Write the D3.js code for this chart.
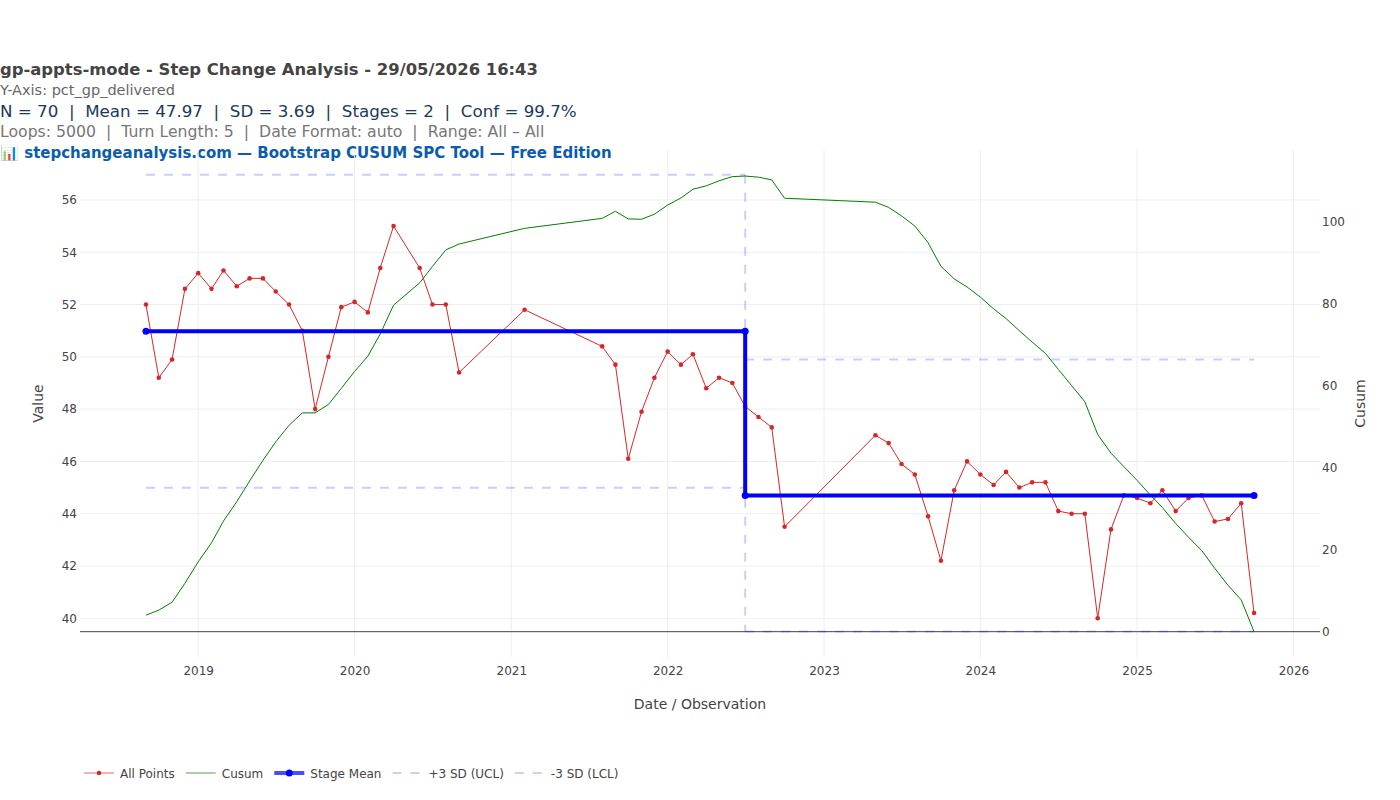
<!DOCTYPE html>
<html>
<head>
<meta charset="utf-8">
<script src="https://cdn.jsdelivr.net/npm/d3@7"></script>
<style>
  body { margin: 0; background: #fff; }
  svg { font-family: "DejaVu Sans", verdana, arial, sans-serif; }
</style>
</head>
<body>
<div class="chart"></div>
<script>
// chart size
const WIDTH = 1400;
const HEIGHT = 800;
const PLOT = { left: 80, right: 1320, top: 150, bottom: 657 };
const FONT = '"DejaVu Sans", verdana, arial, sans-serif';

// header text
const titleText = "gp-appts-mode - Step Change Analysis - 29/05/2026 16:43";
const yAxisText = "Y-Axis: pct_gp_delivered";
const statsText = "N = 70  |  Mean = 47.97  |  SD = 3.69  |  Stages = 2  |  Conf = 99.7%";
const loopsText = "Loops: 5000  |  Turn Length: 5  |  Date Format: auto  |  Range: All \u2013 All";
const linkText = "\ud83d\udcca stepchangeanalysis.com \u2014 Bootstrap CUSUM SPC Tool \u2014 Free Edition";

// observation months
const dates = [
  "2018-09", "2018-10", "2018-11", "2018-12",
  "2019-01", "2019-02", "2019-03", "2019-04", "2019-05", "2019-06",
  "2019-07", "2019-08", "2019-09", "2019-10", "2019-11", "2019-12",
  "2020-01", "2020-02", "2020-03", "2020-04",
  "2020-06", "2020-07", "2020-08", "2020-09",
  "2021-02",
  "2021-08", "2021-09", "2021-10", "2021-11", "2021-12",
  "2022-01", "2022-02", "2022-03", "2022-04", "2022-05", "2022-06",
  "2022-07", "2022-08", "2022-09", "2022-10",
  "2023-05", "2023-06", "2023-07", "2023-08", "2023-09", "2023-10",
  "2023-11", "2023-12",
  "2024-01", "2024-02", "2024-03", "2024-04", "2024-05", "2024-06",
  "2024-07", "2024-08", "2024-09", "2024-10", "2024-11", "2024-12",
  "2025-01", "2025-02", "2025-03", "2025-04", "2025-05", "2025-06",
  "2025-07", "2025-08", "2025-09", "2025-10"
];

// pct_gp_delivered values
const values = [
  52.0, 49.2, 49.9, 52.6,
  53.2, 52.6, 53.3, 52.7, 53.0, 53.0, 52.5, 52.0, 51.0, 48.0, 50.0, 51.9,
  52.1, 51.7, 53.4, 55.0,
  53.4, 52.0, 52.0, 49.4,
  51.8,
  50.4, 49.7, 46.1, 47.9, 49.2,
  50.2, 49.7, 50.1, 48.8, 49.2, 49.0, 48.1, 47.7, 47.3, 43.5,
  47.0, 46.7, 45.9, 45.5, 43.9, 42.2, 44.9, 46.0,
  45.5, 45.1, 45.6, 45.0, 45.2, 45.2, 44.1, 44.0, 44.0, 40.0, 43.4, 44.7,
  44.6, 44.4, 44.9, 44.1, 44.6, 44.7, 43.7, 43.8, 44.4, 40.2
];

// cusum
const cusum = [
  4.03, 5.26, 7.19, 11.82, 17.05, 21.68, 27.01, 31.74, 36.77, 41.80,
  46.33, 50.36, 53.39, 53.42, 55.45, 59.38, 63.51, 67.24, 72.67, 79.70,
  85.13, 89.16, 93.19, 94.62, 98.45, 100.88, 102.61, 100.74, 100.67, 101.90,
  104.13, 105.86, 107.99, 108.82, 110.05, 111.08, 111.21, 110.94, 110.27, 105.80,
  104.83, 103.56, 101.49, 99.02, 94.95, 89.18, 86.11, 84.14, 81.67, 78.80,
  76.43, 73.46, 70.69, 67.92, 64.05, 60.08, 56.11, 48.14, 43.57, 40.30,
  36.93, 33.36, 30.29, 26.42, 23.05, 19.78, 15.51, 11.34, 7.77, 0.00
];

// stages
const stageStart = ["2018-09", "2022-07"];
const stageEnd = ["2022-07", "2025-10"];
const stageMean = [50.98, 44.70];
const stageUcl = [56.96, 49.90];
const stageLcl = [44.99, 39.50];

// axis ticks
const yTicks = [40, 42, 44, 46, 48, 50, 52, 54, 56];
const y2Ticks = [0, 20, 40, 60, 80, 100];
const xTicks = ["2019", "2020", "2021", "2022", "2023", "2024", "2025", "2026"];

const parseMonth = d3.utcParse("%Y-%m");
const parseYear = d3.utcParse("%Y");

// scales
const x = d3.scaleUtc()
  .domain([new Date(Date.UTC(2018, 2, 31)), new Date(Date.UTC(2026, 2, 4))])
  .range([PLOT.left, PLOT.right]);
const y = d3.scaleLinear().domain([38.52, 57.91]).range([PLOT.bottom, PLOT.top]);
const y2 = d3.scaleLinear().domain([-6.18, 117.57]).range([PLOT.bottom, PLOT.top]);

const svg = d3.select(".chart").append("svg")
  .attr("width", WIDTH)
  .attr("height", HEIGHT);

// header lines
const header = [
  { text: titleText, y: 75, size: 16.4, weight: "bold", color: "#444" },
  { text: yAxisText, y: 95, size: 14.5, weight: "normal", color: "#666" },
  { text: statsText, y: 117, size: 16.7, weight: "normal", color: "#1a3a5c" },
  { text: loopsText, y: 137, size: 15.7, weight: "normal", color: "#777" },
  { text: linkText, y: 158, size: 15, weight: "bold", color: "#0b5cad" }
];
svg.selectAll(".header")
  .data(header)
  .enter()
  .append("text")
  .attr("class", "header")
  .attr("x", 0)
  .attr("y", d => d.y)
  .style("font-size", d => d.size + "px")
  .style("font-weight", d => d.weight)
  .style("fill", d => d.color)
  .style("white-space", "pre")
  .attr("xml:space", "preserve")
  .text(d => d.text);

// grid
const grid = svg.append("g");
grid.selectAll(".vgrid")
  .data(xTicks)
  .enter()
  .append("line")
  .attr("x1", d => x(parseYear(d)))
  .attr("x2", d => x(parseYear(d)))
  .attr("y1", PLOT.top)
  .attr("y2", PLOT.bottom)
  .style("stroke", "#eee");
grid.selectAll(".hgrid")
  .data(yTicks)
  .enter()
  .append("line")
  .attr("x1", PLOT.left)
  .attr("x2", PLOT.right)
  .attr("y1", d => y(d))
  .attr("y2", d => y(d))
  .style("stroke", "#eee");

// cusum zero line
svg.append("line")
  .attr("x1", PLOT.left)
  .attr("x2", PLOT.right)
  .attr("y1", y2(0))
  .attr("y2", y2(0))
  .style("stroke", "#444")
  .style("stroke-width", 1);

// axes
const xAxis = svg.append("g")
  .attr("transform", `translate(0,${PLOT.bottom})`)
  .call(d3.axisBottom(x).tickValues(xTicks.map(parseYear)).tickFormat(d3.utcFormat("%Y")).tickSize(0).tickPadding(9));
const yAxis = svg.append("g")
  .attr("transform", `translate(${PLOT.left},0)`)
  .call(d3.axisLeft(y).tickValues(yTicks).tickSize(0).tickPadding(3));
const y2Axis = svg.append("g")
  .attr("transform", `translate(${PLOT.right},0)`)
  .call(d3.axisRight(y2).tickValues(y2Ticks).tickSize(0).tickPadding(2));
[xAxis, yAxis, y2Axis].forEach(a => {
  a.select(".domain").remove();
  a.selectAll("text")
    .style("font-family", FONT)
    .style("font-size", "12px")
    .style("fill", "#444");
});

// axis titles
svg.append("text")
  .attr("x", (PLOT.left + PLOT.right) / 2)
  .attr("y", 709)
  .attr("text-anchor", "middle")
  .style("font-size", "14px")
  .style("fill", "#444")
  .text("Date / Observation");
svg.append("text")
  .attr("transform", `translate(43,${(PLOT.top + PLOT.bottom) / 2}) rotate(-90)`)
  .attr("text-anchor", "middle")
  .style("font-size", "14px")
  .style("fill", "#444")
  .text("Value");
svg.append("text")
  .attr("transform", `translate(1365,${(PLOT.top + PLOT.bottom) / 2}) rotate(-90)`)
  .attr("text-anchor", "middle")
  .style("font-size", "14px")
  .style("fill", "#444")
  .text("Cusum");

// control limits
const limitColor = "rgba(0,0,255,0.2)";
const stages = stageStart.map((s, i) => ({
  start: parseMonth(s), end: parseMonth(stageEnd[i]),
  mean: stageMean[i], ucl: stageUcl[i], lcl: stageLcl[i]
}));
const limits = svg.append("g");
["ucl", "lcl"].forEach(k => {
  limits.selectAll(".lim-" + k)
    .data(stages)
    .enter()
    .append("line")
    .attr("x1", d => x(d.start))
    .attr("x2", d => x(d.end))
    .attr("y1", d => y(d[k]))
    .attr("y2", d => y(d[k]))
    .style("stroke", limitColor)
    .style("stroke-width", 2)
    .style("stroke-dasharray", "9,9");
});
// stage boundary
limits.selectAll(".boundary")
  .data(stages.slice(1))
  .enter()
  .append("line")
  .attr("x1", d => x(d.start))
  .attr("x2", d => x(d.start))
  .attr("y1", (d, i) => y(stages[i].ucl))
  .attr("y2", d => y(d.lcl))
  .style("stroke", limitColor)
  .style("stroke-width", 2)
  .style("stroke-dasharray", "9,9");

// cusum line
const cusumLine = d3.line()
  .x((d, i) => x(parseMonth(dates[i])))
  .y(d => y2(d));
svg.append("path")
  .datum(cusum)
  .attr("d", cusumLine)
  .style("fill", "none")
  .style("stroke", "green")
  .style("stroke-width", 1);

// all points
const pointLine = d3.line()
  .x((d, i) => x(parseMonth(dates[i])))
  .y(d => y(d));
svg.append("path")
  .datum(values)
  .attr("d", pointLine)
  .style("fill", "none")
  .style("stroke", "#d62728")
  .style("stroke-width", 1);
svg.selectAll(".pt")
  .data(values)
  .enter()
  .append("circle")
  .attr("cx", (d, i) => x(parseMonth(dates[i])))
  .attr("cy", d => y(d))
  .attr("r", 2.3)
  .style("fill", "#d62728");

// stage mean step
const stepPts = [];
stages.forEach(s => {
  stepPts.push([s.start, s.mean]);
  stepPts.push([s.end, s.mean]);
});
svg.append("path")
  .datum(stepPts)
  .attr("d", d3.line().x(d => x(d[0])).y(d => y(d[1])))
  .style("fill", "none")
  .style("stroke", "#0000ff")
  .style("stroke-width", 4);
svg.selectAll(".step")
  .data(stepPts)
  .enter()
  .append("circle")
  .attr("cx", d => x(d[0]))
  .attr("cy", d => y(d[1]))
  .attr("r", 3.5)
  .style("fill", "#0000ff");

// legend
const legendItems = [
  { name: "All Points", color: "#d62728", width: 1, dot: 2.3, dash: null },
  { name: "Cusum", color: "green", width: 1, dot: 0, dash: null },
  { name: "Stage Mean", color: "#0000ff", width: 4, dot: 3.5, dash: null },
  { name: "+3 SD (UCL)", color: limitColor, width: 2, dot: 0, dash: "9,9" },
  { name: "-3 SD (LCL)", color: limitColor, width: 2, dot: 0, dash: "9,9" }
];
const legend = svg.append("g").attr("transform", "translate(0,773)");
let lx = 84;
legendItems.forEach(item => {
  const g = legend.append("g").attr("transform", `translate(${lx},0)`);
  g.append("line")
    .attr("x1", 0).attr("x2", 30)
    .style("stroke", item.color)
    .style("stroke-width", item.width)
    .style("stroke-dasharray", item.dash)
    .style("opacity", item.dash ? 1 : 0.7);
  if (item.dot) {
    g.append("circle").attr("cx", 15).attr("r", item.dot).style("fill", item.color);
  }
  const t = g.append("text")
    .attr("x", 36)
    .attr("y", 4.5)
    .style("font-size", "12px")
    .style("fill", "#444")
    .text(item.name);
  lx += 36 + t.node().getComputedTextLength() + 11;
});
</script>
</body>
</html>
